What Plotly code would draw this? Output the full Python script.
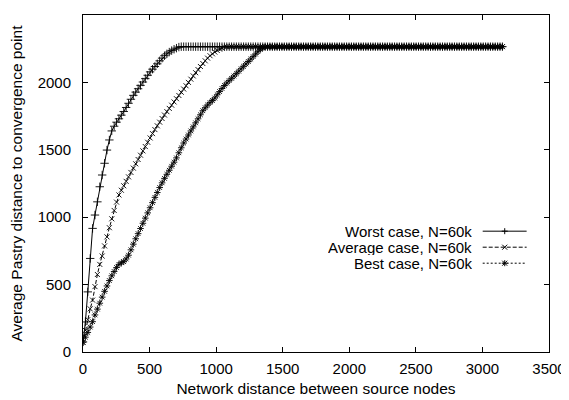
import plotly.graph_objects as go

# Network distance between source nodes (x grid of the measurements)
distance = [
    0, 18, 36, 54, 72, 90, 108, 126, 144, 162,
    180, 198, 216, 234, 252, 270, 288, 306, 324, 342,
    360, 378, 396, 414, 432, 450, 468, 486, 504, 522,
    540, 558, 576, 594, 612, 630, 648, 666, 684, 702,
    720, 738, 756, 774, 792, 810, 828, 846, 864, 882,
    900, 918, 936, 954, 972, 990, 1008, 1026, 1044, 1062,
    1080, 1098, 1116, 1134, 1152, 1170, 1188, 1206, 1224, 1242,
    1260, 1278, 1296, 1314, 1332, 1350, 1368, 1386, 1404, 1422,
    1440, 1458, 1476, 1494, 1512, 1530, 1548, 1566, 1584, 1602,
    1620, 1638, 1656, 1674, 1692, 1710, 1728, 1746, 1764, 1782,
    1800, 1818, 1836, 1854, 1872, 1890, 1908, 1926, 1944, 1962,
    1980, 1998, 2016, 2034, 2052, 2070, 2088, 2106, 2124, 2142,
    2160, 2178, 2196, 2214, 2232, 2250, 2268, 2286, 2304, 2322,
    2340, 2358, 2376, 2394, 2412, 2430, 2448, 2466, 2484, 2502,
    2520, 2538, 2556, 2574, 2592, 2610, 2628, 2646, 2664, 2682,
    2700, 2718, 2736, 2754, 2772, 2790, 2808, 2826, 2844, 2862,
    2880, 2898, 2916, 2934, 2952, 2970, 2988, 3006, 3024, 3042,
    3060, 3078, 3096, 3114, 3132, 3150,
]

# Worst case, N=60k
worst_rise = [
    75, 223, 446, 694, 917, 1016, 1114, 1226, 1313, 1400,
    1498, 1573, 1640, 1675, 1705, 1730, 1757, 1784, 1814, 1845,
    1875, 1904, 1928, 1953, 1978, 2003, 2028, 2053, 2078, 2098,
    2118, 2138, 2160, 2180, 2198, 2212, 2225, 2236, 2246, 2254,
    2262,
]
worst_plateau = [
    2265, 2265, 2265, 2265, 2265, 2265, 2265, 2265, 2265, 2265,
    2265, 2265, 2265, 2265, 2265, 2265, 2265, 2265, 2265, 2265,
    2265, 2265, 2265, 2265, 2265, 2265, 2265, 2265, 2265, 2265,
    2265, 2265, 2265, 2265, 2265, 2265, 2265, 2265, 2265, 2265,
    2265, 2265, 2265, 2265, 2265, 2265, 2265, 2265, 2265, 2265,
    2265, 2265, 2265, 2265, 2265, 2265, 2265, 2265, 2265, 2265,
    2265, 2265, 2265, 2265, 2265, 2265, 2265, 2265, 2265, 2265,
    2265, 2265, 2265, 2265, 2265, 2265, 2265, 2265, 2265, 2265,
    2265, 2265, 2265, 2265, 2265, 2265, 2265, 2265, 2265, 2265,
    2265, 2265, 2265, 2265, 2265, 2265, 2265, 2265, 2265, 2265,
    2265, 2265, 2265, 2265, 2265, 2265, 2265, 2265, 2265, 2265,
    2265, 2265, 2265, 2265, 2265, 2265, 2265, 2265, 2265, 2265,
    2265, 2265, 2265, 2265, 2265, 2265, 2265, 2265, 2265, 2265,
    2265, 2265, 2265, 2265, 2265,
]

# Average case, N=60k
average_rise = [
    70, 160, 240, 320, 385, 485, 575, 650, 712, 787,
    854, 922, 988, 1050, 1112, 1165, 1200, 1233, 1266, 1299,
    1332, 1364, 1396, 1428, 1460, 1492, 1524, 1556, 1588, 1620,
    1650, 1678, 1705, 1732, 1758, 1783, 1807, 1831, 1855, 1879,
    1903, 1927, 1951, 1975, 2000, 2024, 2048, 2072, 2095, 2118,
    2140, 2160, 2180, 2198, 2212, 2225, 2237, 2247, 2256, 2263,
]
average_plateau = [
    2265, 2265, 2265, 2265, 2265, 2265, 2265, 2265, 2265, 2265,
    2265, 2265, 2265, 2265, 2265, 2265, 2265, 2265, 2265, 2265,
    2265, 2265, 2265, 2265, 2265, 2265, 2265, 2265, 2265, 2265,
    2265, 2265, 2265, 2265, 2265, 2265, 2265, 2265, 2265, 2265,
    2265, 2265, 2265, 2265, 2265, 2265, 2265, 2265, 2265, 2265,
    2265, 2265, 2265, 2265, 2265, 2265, 2265, 2265, 2265, 2265,
    2265, 2265, 2265, 2265, 2265, 2265, 2265, 2265, 2265, 2265,
    2265, 2265, 2265, 2265, 2265, 2265, 2265, 2265, 2265, 2265,
    2265, 2265, 2265, 2265, 2265, 2265, 2265, 2265, 2265, 2265,
    2265, 2265, 2265, 2265, 2265, 2265, 2265, 2265, 2265, 2265,
    2265, 2265, 2265, 2265, 2265, 2265, 2265, 2265, 2265, 2265,
    2265, 2265, 2265, 2265, 2265, 2265,
]

# Best case, N=60k
best_rise = [
    72, 110, 145, 185, 225, 275, 318, 362, 407, 450,
    490, 530, 565, 597, 627, 650, 662, 670, 690, 718,
    758, 800, 840, 878, 916, 955, 993, 1032, 1070, 1108,
    1147, 1183, 1220, 1255, 1288, 1318, 1348, 1378, 1408, 1440,
    1478, 1515, 1550, 1580, 1610, 1640, 1670, 1700, 1730, 1760,
    1790, 1812, 1832, 1850, 1866, 1884, 1908, 1932, 1955, 1977,
    1995, 2013, 2030, 2047, 2065, 2083, 2101, 2119, 2137, 2155,
    2173, 2191, 2210, 2228, 2245, 2258, 2264,
]
best_plateau = [
    2265, 2265, 2265, 2265, 2265, 2265, 2265, 2265, 2265, 2265,
    2265, 2265, 2265, 2265, 2265, 2265, 2265, 2265, 2265, 2265,
    2265, 2265, 2265, 2265, 2265, 2265, 2265, 2265, 2265, 2265,
    2265, 2265, 2265, 2265, 2265, 2265, 2265, 2265, 2265, 2265,
    2265, 2265, 2265, 2265, 2265, 2265, 2265, 2265, 2265, 2265,
    2265, 2265, 2265, 2265, 2265, 2265, 2265, 2265, 2265, 2265,
    2265, 2265, 2265, 2265, 2265, 2265, 2265, 2265, 2265, 2265,
    2265, 2265, 2265, 2265, 2265, 2265, 2265, 2265, 2265, 2265,
    2265, 2265, 2265, 2265, 2265, 2265, 2265, 2265, 2265, 2265,
    2265, 2265, 2265, 2265, 2265, 2265, 2265, 2265, 2265,
]

worst = worst_rise + worst_plateau
average = average_rise + average_plateau
best = best_rise + best_plateau

series_names = ["Worst case, N=60k", "Average case, N=60k", "Best case, N=60k"]
x_ticks = [0, 500, 1000, 1500, 2000, 2500, 3000, 3500]
y_ticks = [0, 500, 1000, 1500, 2000, 2500]

FONT = "Liberation Sans, Arial, Helvetica, sans-serif"
BLACK = "#000000"

styles = [
    dict(symbol="cross-thin", size=6, dash="solid"),
    dict(symbol="x-thin", size=5, dash="4px,2px"),
    dict(symbol="asterisk", size=5.5, dash="2px,2px"),
]

fig = go.Figure()
for name, ys, st in zip(series_names, [worst, average, best], styles):
    fig.add_trace(go.Scatter(
        x=distance, y=ys, name=name, mode="lines+markers",
        line=dict(color=BLACK, width=1, dash=st["dash"]),
        marker=dict(symbol=st["symbol"], size=st["size"], color=BLACK,
                    line=dict(color=BLACK, width=0.9)),
        showlegend=False,
    ))

axis_common = dict(
    showline=True, linecolor=BLACK, linewidth=1, mirror="ticks",
    ticks="inside", ticklen=5, tickwidth=1, tickcolor=BLACK,
    showgrid=False, zeroline=False,
    tickfont=dict(family=FONT, size=15, color=BLACK),
)

# The page body adds an 8px offset, so the figure is sized to fill the
# remaining visible window area.
fig.update_layout(
    width=561, height=392,
    paper_bgcolor="white", plot_bgcolor="white",
    margin=dict(l=75, r=20, t=7, b=48, autoexpand=False),
    font=dict(family=FONT, size=15, color=BLACK),
    xaxis=dict(range=[0, 3500], tickvals=x_ticks, ticklabelstandoff=3,
               title=dict(text="Network distance between source nodes",
                          font=dict(family=FONT, size=15.5, color=BLACK), standoff=7),
               automargin=False, **axis_common),
    yaxis=dict(range=[0, 2500], tickvals=y_ticks, ticklabelstandoff=8,
               title=dict(text="Average Pastry distance to convergence point",
                          font=dict(family=FONT, size=15.5, color=BLACK), standoff=12),
               automargin=False, **axis_common),
)

# gnuplot-style key: text right-aligned, sample line with marker to its right
rows_y = [0.3585, 0.311, 0.2635]
line_x0, line_x1, mark_x, text_x = 0.8577, 0.952, 0.905, 0.8369
shapes = []
annotations = []
for name, ry, st in zip(series_names, rows_y, styles):
    annotations.append(dict(x=text_x, y=ry, xref="paper", yref="paper",
                            xanchor="right", yanchor="middle", showarrow=False,
                            height=15, borderpad=0,
                            text=name, font=dict(family=FONT, size=15, color=BLACK)))
    shapes.append(dict(type="line", xref="paper", yref="paper",
                       x0=line_x0, x1=line_x1, y0=ry, y1=ry,
                       line=dict(color=BLACK, width=1, dash=st["dash"])))
    segs = []
    if st["symbol"] in ("cross-thin", "asterisk"):
        segs += [(-3, 0, 3, 0), (0, -3, 0, 3)]
    if st["symbol"] in ("x-thin", "asterisk"):
        segs += [(-2.5, -2.5, 2.5, 2.5), (-2.5, 2.5, 2.5, -2.5)]
    for (a, b, c, d) in segs:
        shapes.append(dict(type="line", xref="paper", yref="paper",
                           xsizemode="pixel", ysizemode="pixel",
                           xanchor=mark_x, yanchor=ry,
                           x0=a, y0=b, x1=c, y1=d,
                           line=dict(color=BLACK, width=1)))

fig.update_layout(shapes=shapes, annotations=annotations)
fig.write_html("out.html")
